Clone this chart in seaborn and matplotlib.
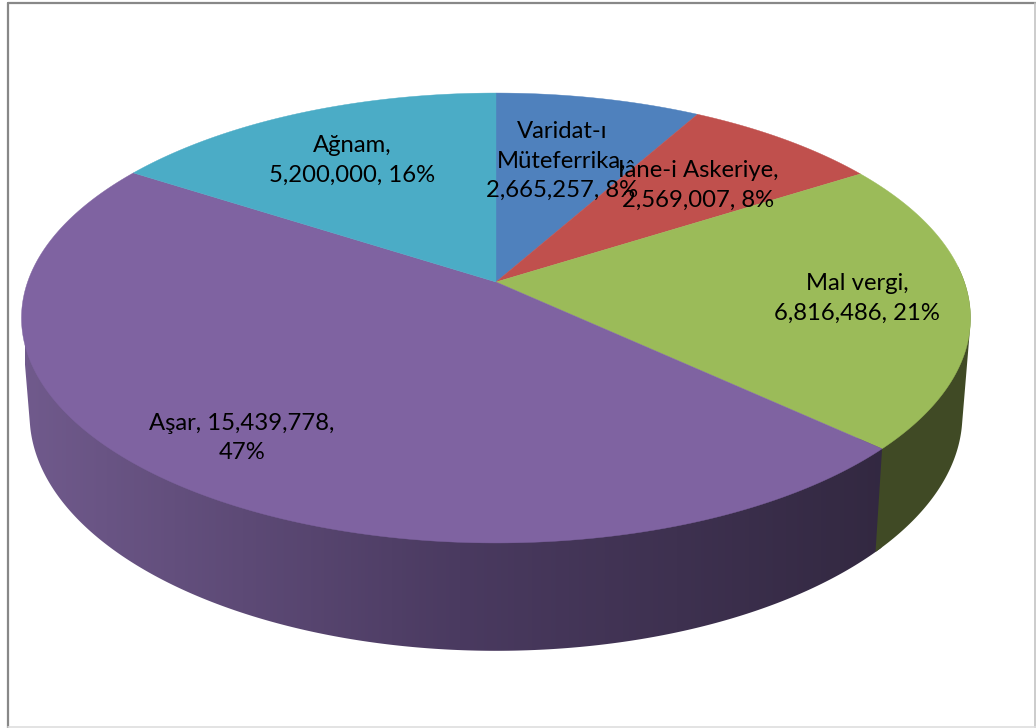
import numpy as np
import matplotlib
matplotlib.use("Agg")
import matplotlib.pyplot as plt
from matplotlib.patches import Polygon
import seaborn as sns

# gelir kalemleri, saat yonunde tepeden baslayarak
names = ["Varidat-ı\nMüteferrika,", "Iâne-i Askeriye,", "Mal vergi,", "Aşar,", "Ağnam,"]
values = [2665257, 2569007, 6816486, 15439778, 5200000]
colors = ["#4F81BD", "#C0504D", "#9BBB59", "#7F63A1", "#4BACC6"]

# label layout (pixel coords)
label_xy = [(562, 161), (698, 185), (857, 298), (242, 438), (352, 160.5)]
label_sep = ["\n", "\n", "\n", " ", "\n"]

# perspective of the pie, fitted by eye
cx, k = 496, 0.16
top_a, top_b, top_cy = 468.4, 219.2, 282
low_a, low_b, low_cy = 460.4, 230, 377

sns.set_theme(style="white")
plt.rcParams["font.family"] = ["Lato", "DejaVu Sans"]


def rim(theta, a, b, cy):
    x, y = np.sin(theta), np.cos(theta)
    d = 1 + k * y
    return cx + a * x / d, cy - b * y / d


def hull(pts):
    # monotone chain, the wall outline is the hull of both rim arcs
    pts = sorted(map(tuple, pts))

    def half(seq):
        out = []
        for p in seq:
            while len(out) > 1 and ((out[-1][0] - out[-2][0]) * (p[1] - out[-2][1])
                                    - (out[-1][1] - out[-2][1]) * (p[0] - out[-2][0])) <= 0:
                out.pop()
            out.append(p)
        return out[:-1]

    return np.array(half(pts) + half(pts[::-1]))


def wall(start, stop):
    th = np.linspace(start, stop, 300)
    x1, y1 = rim(th, top_a, top_b, top_cy)
    x2, y2 = rim(th, low_a, low_b, low_cy)
    return hull(np.c_[np.r_[x1, x2], np.r_[y1, y2]])


total = sum(values)
edges = np.concatenate([[0], np.cumsum(values)]) / total * 2 * np.pi

fig = plt.figure(figsize=(10.36, 7.28), dpi=100)
ax = fig.add_axes([0, 0, 1, 1])

# outer frame
ax.plot([7.5, 7.5], [728, 2.5], color="#888888", lw=1.6, zorder=5)
ax.plot([7.5, 1036], [2.5, 2.5], color="#888888", lw=1.6, zorder=5)
ax.plot([1035.2, 1035.2], [2.5, 728], color="#c4c4c4", lw=1.2, zorder=5)
ax.plot([7.5, 1036], [727.3, 727.3], color="#dedede", lw=1.2, zorder=5)

# side walls: purple shaded left to right, green flat on top of it
purple_shade = sns.blend_palette(["#705A8C", "#4A3A60", "#322840"], as_cmap=True)
grad = np.linspace(0, 1, 512).reshape(1, -1)
im = ax.imshow(grad, cmap=purple_shade, extent=(25, 895, 700, 300), aspect="auto", zorder=1)
im.set_clip_path(Polygon(wall(edges[3] - 0.02, 2 * np.pi - 1.5), closed=True, transform=ax.transData))
ax.add_patch(Polygon(wall(1.5, edges[3]), closed=True, color="#404A25", lw=0, zorder=1.5))

# top face
for i, c in enumerate(colors):
    th = np.linspace(edges[i], edges[i + 1], 200)
    x, y = rim(th, top_a, top_b, top_cy)
    ax.fill(np.r_[cx, x], np.r_[top_cy, y], color=c, lw=0.3, zorder=2)

# labels
for i in range(len(values)):
    pct = round(values[i] / total * 100)
    txt = f"{names[i]}{label_sep[i]}{values[i]:,},{' ' if i != 3 else chr(10)}{pct}%"
    ax.text(label_xy[i][0], label_xy[i][1], txt, ha="center", va="center",
            fontsize=17.2, color="black", linespacing=1.52, zorder=6)

ax.set_xlim(0, 1036)
ax.set_ylim(728, 0)
ax.axis("off")

fig.savefig("out.png", dpi=100)
